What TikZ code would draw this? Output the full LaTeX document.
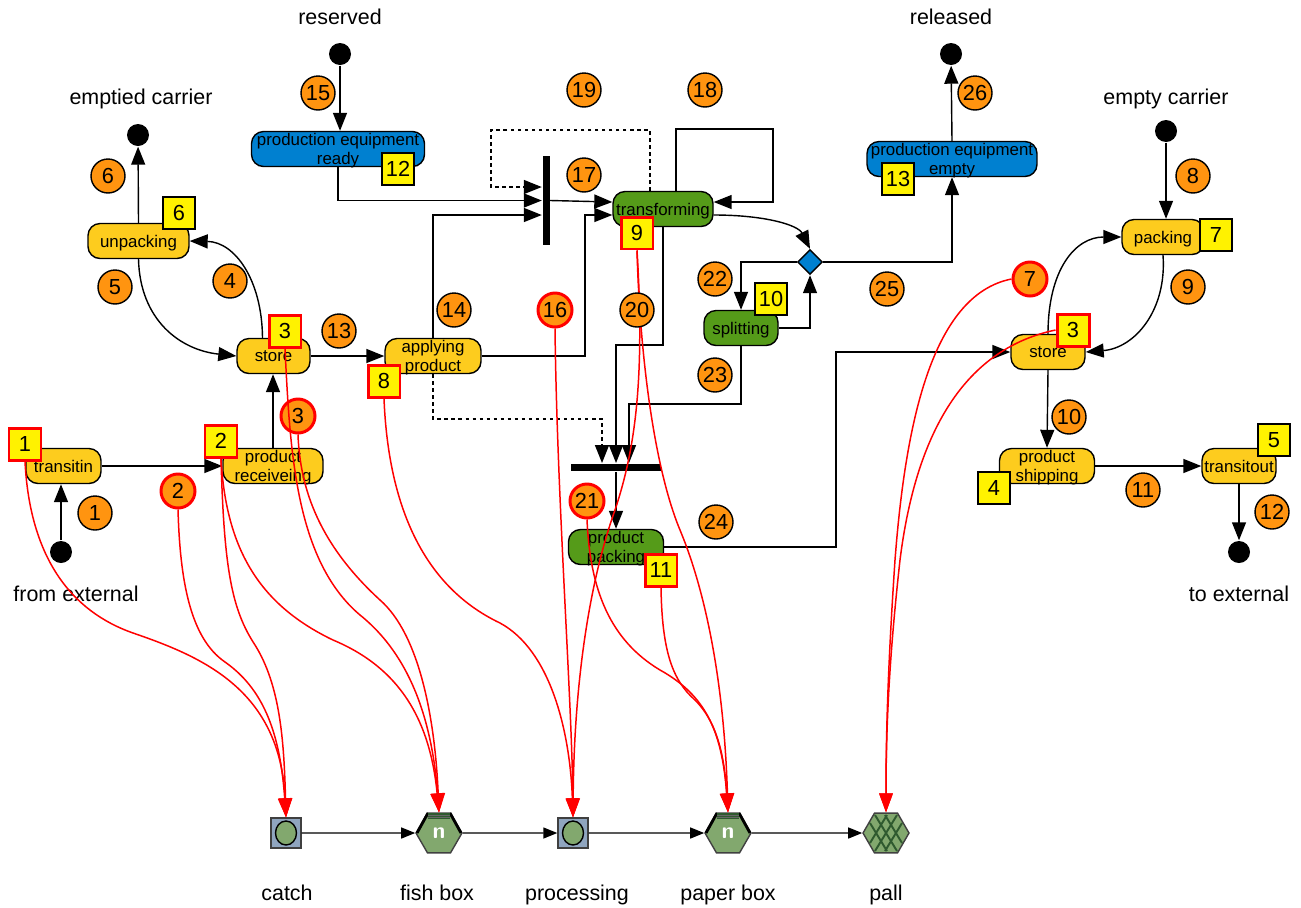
\documentclass[tikz,border=0pt]{standalone}
\usepackage{fontspec}
\setmainfont{Liberation Sans}
\usetikzlibrary{arrows.meta, shapes.geometric}
\definecolor{stepyellow}{HTML}{FDCC1E}
\definecolor{stepgreen}{HTML}{559B19}
\definecolor{stepblue}{HTML}{0080D0}
\definecolor{numorange}{HTML}{FF9410}
\definecolor{boxgreen}{HTML}{82A86E}
\definecolor{boxdark}{HTML}{2F5A2F}
\definecolor{slate}{HTML}{8FA5BF}
\begin{document}
\begin{tikzpicture}[x=0.02cm, y=-0.02cm, line width=0.8pt,
    stepbox/.style={draw, rounded corners=0.24cm, inner sep=0pt, align=center, minimum height=0.7cm, text depth=0pt, font=\fontsize{9.6}{10.8}\selectfont},
    yellowstep/.style={stepbox, fill=stepyellow},
    greenstep/.style={stepbox, fill=stepgreen},
    bluestep/.style={stepbox, fill=stepblue},
    numdot/.style={circle, draw, fill=numorange, inner sep=0pt, minimum size=0.68cm, font=\fontsize{12.4}{14}\selectfont},
    numdotred/.style={numdot, draw=red, line width=1.7pt},
    numtag/.style={draw, fill=yellow, inner sep=0pt, minimum size=0.64cm, font=\fontsize{12.4}{14}\selectfont},
    numtagred/.style={numtag, draw=red, line width=1.7pt},
    endpoint/.style={circle, fill=black, inner sep=0pt, minimum size=0.44cm},
    caption/.style={inner sep=0pt, font=\fontsize{12.2}{14}\selectfont},
    bar/.style={fill=black, inner sep=0pt},
    silo/.style={draw=black!75, fill=slate, inner sep=0pt, minimum size=0.6cm},
    siloin/.style={ellipse, draw, fill=boxgreen, inner sep=0pt, minimum width=0.42cm, minimum height=0.48cm},
    hexbox/.style={regular polygon, regular polygon sides=6, draw=black!75, fill=boxgreen, inner sep=0pt, minimum size=0.92cm, text=white, font=\sffamily\bfseries\fontsize{13}{15}\selectfont},
    flow/.style={-{Triangle[length=0.36cm, width=0.28cm]}},
    flowdash/.style={flow, dash pattern=on 2pt off 2pt},
    flowsmall/.style={-{Triangle[length=0.28cm, width=0.22cm]}},
    link/.style={draw=red, line width=0.85pt, -{Triangle[length=0.38cm, width=0.27cm]}, red}]
      \useasboundingbox (0,0) rectangle (1301,907);

      \node[yellowstep, minimum width=1.5cm] (transitin) at (63.5,466) {transitin};
      \node[yellowstep, minimum width=2cm] (receiving) at (273,466) {product\\receiveing};
      \node[yellowstep, minimum width=1.46cm] (storeleft) at (273.5,356) {store};
      \node[yellowstep, minimum width=2.02cm] (unpacking) at (138.5,241) {unpacking};
      \node[yellowstep, minimum width=1.92cm] (applying) at (433,356) {applying\\product};
      \node[bluestep, minimum width=3.46cm] (ready) at (338,149) {production equipment\\ready};
      \node[greenstep, minimum width=2cm] (transforming) at (663,209) {transforming};
      \node[greenstep, minimum width=1.48cm] (splitting) at (741,328) {splitting};
      \node[greenstep, minimum width=1.9cm] (prodpack) at (616,547) {product\\packing};
      \node[bluestep, minimum width=3.4cm] (emptied) at (952,159) {production equipment\\empty};
      \node[yellowstep, minimum width=1.64cm] (packing) at (1163,237) {packing};
      \node[yellowstep, minimum width=1.48cm] (storeright) at (1048,352) {store};
      \node[yellowstep, minimum width=1.9cm] (shipping) at (1047,466) {product\\shipping};
      \node[yellowstep, minimum width=1.48cm] (transitout) at (1239,466) {transitout};

      \node[endpoint] (fromext) at (61,552) {};
      \node[endpoint] (reserved) at (340,54) {};
      \node[endpoint] (carrierout) at (138,135) {};
      \node[endpoint] (released) at (951,54) {};
      \node[endpoint] (carrierin) at (1166,131) {};
      \node[endpoint] (toext) at (1239,552) {};

      \node[caption] (capreserved) at (340,17) {reserved};
      \node[caption] (capreleased) at (951,17) {released};
      \node[caption] (capemptied) at (141,99) {emptied carrier};
      \node[caption] (capempty) at (1166,99) {empty carrier};
      \node[caption] (capfrom) at (76,594) {from external};
      \node[caption] (capto) at (1239,594) {to external};
      \node[caption] (capcatch) at (287,893) {catch};
      \node[caption] (capfish) at (437,893) {fish box};
      \node[caption] (capproc) at (577,895) {processing};
      \node[caption] (cappaper) at (728,895) {paper box};
      \node[caption] (cappall) at (886,895) {pall};

      \node[bar, minimum width=0.14cm, minimum height=1.78cm] (vbar) at (546,200.5) {};
      \node[bar, minimum width=1.8cm, minimum height=0.15cm] (hbar) at (616,467.5) {};
      \node[diamond, draw, fill=stepblue, inner sep=0pt, minimum size=0.5cm] (choice) at (810,262) {};

      \node[silo] (catch) at (286,833) {};
      \node[siloin] (catchin) at (286,833) {};
      \node[silo] (proc) at (573,833) {};
      \node[siloin] (procin) at (573,833) {};
      \node[hexbox] (fish) at (439,833) {n};
      \node[hexbox] (paper) at (728,833) {n};
      \node[hexbox] (pall) at (886,833) {};

      \foreach \cx in {439,728} {
        \draw[black, line width=1.6pt] (\cx-22,833) -- (\cx-11,813) (\cx+22,833) -- (\cx+11,813);
        \fill[boxdark] (\cx-11,813) rectangle (\cx+11,819);
        \draw[black!60, line width=0.4pt] (\cx-11,815) -- (\cx+11,815) (\cx-11,817) -- (\cx+11,817);
      }
      \draw[boxdark, line width=1.1pt] (875,815) -- (897,851) (897,815) -- (875,851) (885,815) -- (902,843)
        (887,815) -- (870,843) (870,823) -- (887,851) (902,823) -- (885,851);

      \node[numtagred] (tag1) at (25,444) {1};
      \node[numtagred] (tag2) at (221,441) {2};
      \node[numtagred] (tag3) at (285,331) {3};
      \node[numtag] (tag6) at (179,213) {6};
      \node[numtagred] (tag8) at (384,381) {8};
      \node[numtag] (tag12) at (398,169) {12};
      \node[numtagred] (tag9) at (637,233) {9};
      \node[numtag] (tag10) at (771,299) {10};
      \node[numtagred] (tag11) at (661,570) {11};
      \node[numtag] (tag13) at (898,179) {13};
      \node[numtagred] (tag3b) at (1073,330) {3};
      \node[numtag] (tag7) at (1216,235) {7};
      \node[numtag] (tag4) at (994,488) {4};
      \node[numtag] (tag5) at (1274,440) {5};

      \node[numdotred] (num2) at (178,491) {2};
      \node[numdotred] (num3) at (298,416) {3};
      \node[numdotred] (num7) at (1030,279) {7};
      \node[numdotred] (num16) at (555,310) {16};
      \node[numdotred] (num21) at (587,501) {21};

      \draw[flow] (fromext) -- (transitin.south -| fromext);
      \draw[flow] (transitin) -- (receiving);
      \draw[flow] (receiving) -- (storeleft.south -| receiving);
      \draw[flow] ([xshift=-0.22cm]storeleft.north) .. controls (262,280) and (235,242) .. (unpacking.east);
      \draw[flow] (unpacking.south) .. controls (140,320) and (180,350) .. (storeleft.west);
      \draw[flow] (unpacking.north) -- (carrierout);
      \draw[flow] (storeleft) -- (applying);
      \draw[flow] (reserved) -- (ready.north -| reserved);
      \draw[flow] (ready.south) |- (vbar.west);
      \draw[flow] (applying.north) |- ([yshift=-0.29cm]vbar.west);
      \draw[flowdash] ([xshift=-0.26cm]transforming.north) |- (491,130) |- ([yshift=0.27cm]vbar.west);
      \draw[flow] (vbar.east) -- ([yshift=0.14cm]transforming.west);
      \draw[flow] (applying.east) -- (585,356) |- ([yshift=-0.12cm]transforming.west);
      \draw[flow] ([xshift=0.26cm]transforming.north) |- (773,129) |- ([yshift=0.14cm]transforming.east);
      \draw[flow] ([yshift=-0.12cm]transforming.east) .. controls (765,215) and (798,225) .. (choice.north);
      \draw[flow] (choice.west) -| (splitting.north);
      \draw[flow] (splitting.east) -| (choice.south);
      \draw[flow] (choice.east) -| (emptied.south);
      \draw[flow] (emptied.north) -- (released);
      \draw[flow] (transforming.south) -- (663,345) -| (hbar.north);
      \draw[flow] (splitting.south) -- (741,404) -| ([xshift=0.26cm]hbar.north);
      \draw[flowdash] (applying.south) -- (433,419) -| ([xshift=-0.28cm]hbar.north);
      \draw[flow] (hbar.south) -- (prodpack.north);
      \draw[flow] (prodpack.east) -- (836,547) |- (storeright.west);
      \draw[flow] (carrierin) -- (packing.north -| carrierin);
      \draw[flow] (storeright.north) .. controls (1048,270) and (1075,237) .. (packing.west);
      \draw[flow] (packing.south) .. controls (1167,310) and (1135,348) .. (storeright.east);
      \draw[flow] (storeright.south) -- (shipping.north);
      \draw[flow] (shipping) -- (transitout);
      \draw[flow] (transitout) -- (toext);
      \draw[flowsmall] (catch) -- (fish);
      \draw[flowsmall] (fish) -- (proc);
      \draw[flowsmall] (proc) -- (paper);
      \draw[flowsmall] (paper) -- (pall);

      \draw[link] (tag1.south) .. controls (30,560) and (73,612) .. (133,633) .. controls (203,657) and (280,690) .. (catch.north);
      \draw[link] (num2.south) .. controls (180,580) and (190,638) .. (225,662) .. controls (262,688) and (280,730) .. (catch.north);
      \draw[link] (tag2.south) .. controls (224,570) and (232,610) .. (255,645) .. controls (280,685) and (284,740) .. (catch.north);
      \draw[link] (tag2.south) .. controls (226,550) and (260,605) .. (333,640) .. controls (400,668) and (430,720) .. (fish.north);
      \draw[link] (tag3.south) .. controls (290,450) and (295,560) .. (360,615) .. controls (410,655) and (432,720) .. (fish.north);
      \draw[link] (num3.south) .. controls (300,490) and (320,545) .. (380,600) .. controls (420,635) and (435,720) .. (fish.north);
      \draw[link] (tag8.south) .. controls (388,500) and (420,585) .. (500,623) .. controls (550,650) and (570,730) .. (proc.north);
      \draw[link] (num16.south) .. controls (557,500) and (572,700) .. (proc.north);
      \draw[link] (tag9.south) .. controls (645,380) and (635,450) .. (615,510) .. controls (590,580) and (574,680) .. (proc.north);
      \draw[link] (tag9.south) .. controls (640,360) and (655,470) .. (680,530) .. controls (705,590) and (724,680) .. (paper.north);
      \draw[link] (num21.south) .. controls (590,590) and (610,640) .. (660,670) .. controls (705,695) and (722,730) .. (paper.north);
      \draw[link] (tag11.south) .. controls (662,650) and (672,680) .. (695,700) .. controls (715,720) and (724,750) .. (paper.north);
      \draw[link] (num7.west) .. controls (930,295) and (905,430) .. (895,560) .. controls (889,650) and (886,720) .. (pall.north);
      \draw[link] (tag3b.west) .. controls (960,350) and (915,440) .. (900,560) .. controls (890,650) and (886,720) .. (pall.north);

      \foreach \x/\y/\n in {95/513/1, 230/281/4, 115/287/5, 108/176/6, 1193/176/8, 1188/287/9, 1069/417/10, 1143/490/11, 1272/512/12, 339/331/13, 454/310/14, 318/93/15, 584/175/17, 705/90/18, 584/90/19, 637/310/20, 715/279/22, 715/375/23, 716/522/24, 887/289/25, 975/93/26}
        \node[numdot] (num\n) at (\x,\y) {\n};
    \end{tikzpicture}
\end{document}
